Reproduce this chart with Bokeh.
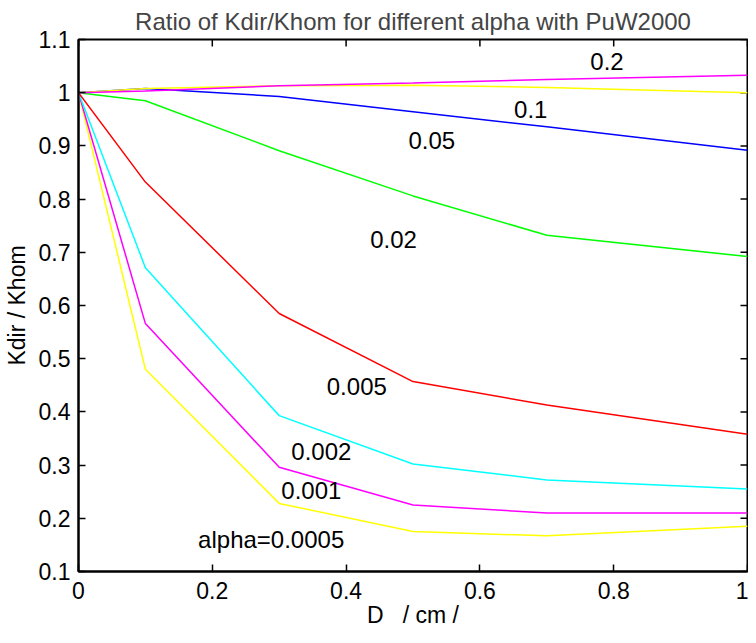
import math
from bokeh.plotting import figure
from bokeh.models import LinearAxis, FixedTicker, Range1d, CustomJSTickFormatter
from bokeh.core.properties import value
from bokeh.embed import file_html
from bokeh.resources import INLINE

# ---- data ----
D = [0.0, 0.1, 0.3, 0.5, 0.7, 1.0]
k_0005 = [1.000, 0.480, 0.228, 0.175, 0.167, 0.185]
k_001 = [1.000, 0.566, 0.296, 0.225, 0.210, 0.210]
k_002 = [1.000, 0.671, 0.393, 0.302, 0.272, 0.255]
k_005 = [1.000, 0.832, 0.585, 0.457, 0.413, 0.358]
k_02 = [1.000, 0.985, 0.891, 0.806, 0.732, 0.692]
k_05 = [1.000, 1.008, 0.993, 0.964, 0.936, 0.892]
k_1 = [1.000, 1.008, 1.013, 1.014, 1.010, 1.000]
k_2 = [1.000, 1.003, 1.013, 1.018, 1.025, 1.033]

series = [k_0005, k_001, k_002, k_005, k_02, k_05, k_1, k_2]
colors = ["#FFFF00", "#FF00FF", "#00FFFF", "#FF0000", "#00FF00", "#0000FF", "#FFFF00", "#FF00FF"]

label_text = ["alpha=0.0005", "0.001", "0.002", "0.005", "0.02", "0.05", "0.1", "0.2"]
label_x = [0.288, 0.348, 0.363, 0.416, 0.471, 0.528, 0.676, 0.790]
label_y = [0.161, 0.253, 0.325, 0.447, 0.7235, 0.911, 0.969, 1.058]

x_ticks = [0.0, 0.2, 0.4, 0.6, 0.8, 1.0]
x_tick_labels = ["0", "0.2", "0.4", "0.6", "0.8", "1"]
y_ticks = [0.1, 0.2, 0.3, 0.4, 0.5, 0.6, 0.7, 0.8, 0.9, 1.0, 1.1]
y_tick_labels = ["0.1", "0.2", "0.3", "0.4", "0.5", "0.6", "0.7", "0.8", "0.9", "1", "1.1"]

x_title = "D\u00a0\u00a0\u00a0/ cm /"
y_title = "Kdir / Khom"
chart_title = "Ratio of Kdir/Khom for different alpha with PuW2000"

FONT = "Liberation Sans"
x_min, x_max = 0.0, 1.0
y_min, y_max = 0.1, 1.1

p = figure(width=748, height=635, x_range=Range1d(x_min, x_max), y_range=Range1d(y_min, y_max),
           output_backend="svg", toolbar_location=None,
           x_axis_location=None, y_axis_location=None,
           min_border_left=72, min_border_right=1, min_border_top=39, min_border_bottom=64)
p.grid.visible = False
p.outline_line_color = "black"
p.outline_line_width = 2
p.background_fill_color = "white"
p.border_fill_color = "white"

p.title.text = chart_title
p.title.text_font = FONT
p.title.text_font_size = "24px"
p.title.text_font_style = "normal"
p.title.align = "center"
p.title.standoff = 9


def fmt(tvals, tlabels):
    return CustomJSTickFormatter(args=dict(tvals=tvals, tlabels=tlabels), code="""
        for (let i = 0; i < tvals.length; i++) {
            if (Math.abs(tvals[i] - tick) < 1e-9) return tlabels[i];
        }
        return "";
    """)


def style(ax):
    ax.axis_line_width = 2
    ax.axis_line_color = "black"
    ax.major_tick_in = 7
    ax.major_tick_out = 0
    ax.major_tick_line_width = 1.5
    ax.major_tick_line_color = "black"
    ax.minor_tick_line_color = None
    ax.major_label_text_font = FONT
    ax.major_label_text_color = "black"
    ax.major_label_text_font_size = "23px"
    ax.axis_label_text_font = FONT
    ax.axis_label_text_font_size = "23px"
    ax.axis_label_text_font_style = "normal"
    ax.axis_label_text_color = "black"


xb = LinearAxis(ticker=FixedTicker(ticks=x_ticks), formatter=fmt(x_ticks, x_tick_labels),
                axis_label=x_title)
style(xb)
xb.major_label_standoff = 10
xb.axis_label_standoff = 0
p.add_layout(xb, "below")

yl = LinearAxis(ticker=FixedTicker(ticks=y_ticks), formatter=fmt(y_ticks, y_tick_labels),
                axis_label=y_title)
style(yl)
yl.major_label_standoff = 8
yl.axis_label_standoff = 6
p.add_layout(yl, "left")

# inward ticks on the top and right edges of the box (half of each dash is clipped by the frame)
p.scatter(x=x_ticks, y=[y_max] * len(x_ticks), marker="dash", angle=math.pi / 2,
          size=14, line_color="black", line_width=1.5)
p.scatter(x=[x_max] * len(y_ticks), y=y_ticks, marker="dash",
          size=14, line_color="black", line_width=1.5)

for s, c in zip(series, colors):
    p.line(D, s, line_color=c, line_width=1.5)

p.text(x=label_x, y=label_y, text=label_text, text_align="center", text_baseline="middle",
       text_font=value(FONT), text_font_size="24px", text_color="black")

open("out.html", "w").write(file_html(p, INLINE))
